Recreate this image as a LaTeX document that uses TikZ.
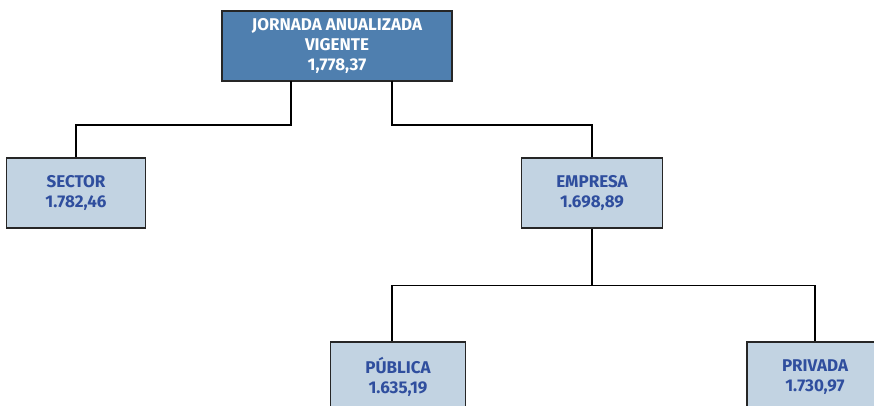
\documentclass[tikz,border=0pt]{standalone}
\usepackage{fontspec}
\setmainfont{Fira Sans}
\usetikzlibrary{positioning}
\definecolor{topblue}{HTML}{4F7FAF}
\definecolor{paleblue}{HTML}{C2D3E2}
\definecolor{textblue}{HTML}{2F4E9E}
\tikzset{
  box/.style={draw=black!85,line width=1.4pt,inner sep=0pt,minimum height=70pt,align=center,
    font=\fontsize{17}{20}\selectfont\bfseries},
  headbox/.style={box,fill=topblue,text=white,minimum width=230pt},
  subbox/.style={box,fill=paleblue,text=textblue},
  link/.style={line width=1.2pt,black}
}
\begin{document}
\begin{tikzpicture}[x=1pt,y=-1pt]
\useasboundingbox (0,0) rectangle (874,406);
\node[headbox] (jornada) at (337,46) {JORNADA ANUALIZADA\\VIGENTE\\1,778,37};
\node[subbox,minimum width=139pt] (sector) at (76,193) {SECTOR\\1.782,46};
\node[subbox,minimum width=141pt] (empresa) at (592,193) {EMPRESA\\1.698,89};
\node[subbox,minimum width=135pt] (publica) at (398,377) {PÚBLICA\\1.635,19};
\node[subbox,minimum width=136pt] (privada) at (815,377) {PRIVADA\\1.730,97};
% connectors
\coordinate (jl) at (291,81);
\coordinate (jr) at (392,81);
\draw[link] (jl) -- ++(0,44) -| (sector);
\draw[link] (jr) -- ++(0,44) -| (empresa);
\draw[link] (empresa.south) -- ++(0,57) -| (publica.north -| jr);
\draw[link] (empresa.south) ++(0,57) -| (privada);
\end{tikzpicture}
\end{document}
